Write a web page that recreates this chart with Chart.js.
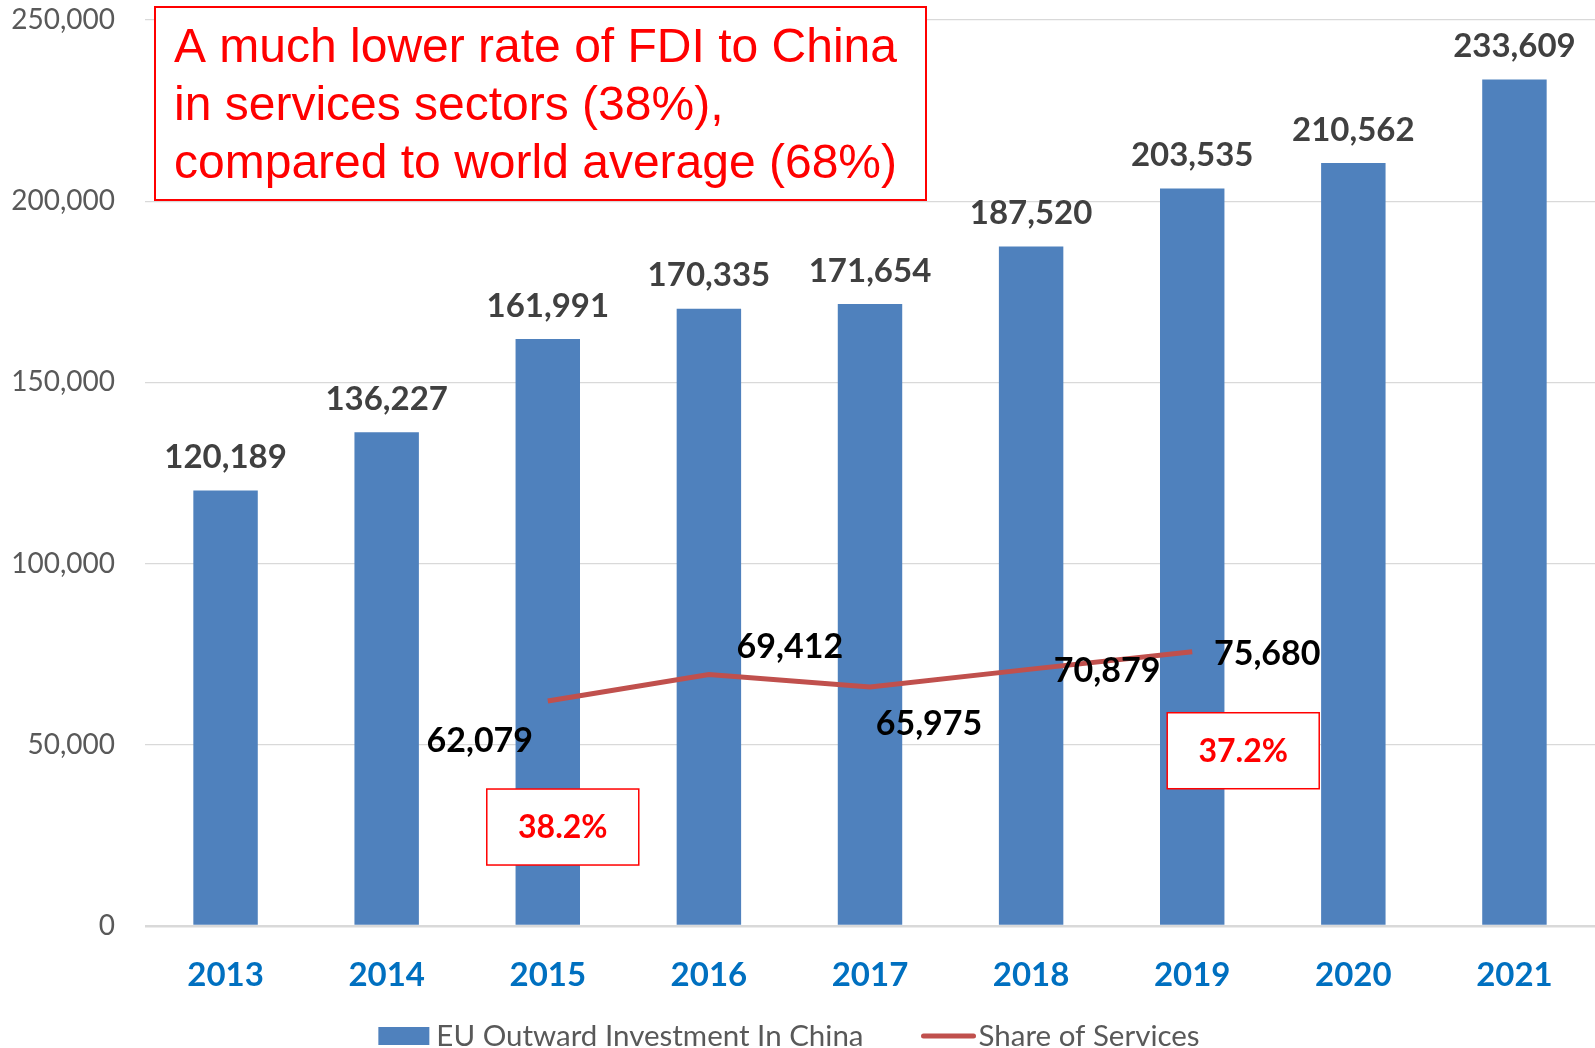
<!DOCTYPE html>
<html>
<head>
<meta charset="utf-8">
<title>EU Outward Investment In China</title>
<script src="https://cdn.jsdelivr.net/npm/chart.js@4.4.1/dist/chart.umd.min.js"></script>
<style>
  html, body { margin: 0; padding: 0; background: #fff; }
  #wrap { width: 1595px; height: 1048px; }
</style>
</head>
<body>
<div id="wrap"><canvas id="fdiChart" width="1595" height="1048"></canvas></div>
<script>
// EU outward investment stock in China, and the part of it in services
const years = ['2013', '2014', '2015', '2016', '2017', '2018', '2019', '2020', '2021'];
const investment = [120189, 136227, 161991, 170335, 171654, 187520, 203535, 210562, 233609];
const services = [null, null, 62079, 69412, 65975, 70879, 75680, null, null];
const yTicks = [0, 50000, 100000, 150000, 200000, 250000];
const shareYears = ['2015', '2019'];
const shareText = ['38.2%', '37.2%'];
const noteLines = [
  'A much lower rate of FDI to China',
  'in services sectors (38%),',
  'compared to world average (68%)'
];

// where the labels sit, relative to the point they belong to
const serviceLabelOffsets = [null, null, [-68, 40], [81, -27], [59, 37], [76, 2], [75, 2], null, null];
const shareBoxOffsets = [[15, 126], [51, 99]];

const FONT = 'Lato, "Open Sans", sans-serif';
const BLUE = '#4F81BD';
const RED_LINE = '#C0504D';

const fmt = v => v.toLocaleString('en-US');

const labelsPlugin = {
  id: 'labels',
  afterDatasetsDraw(chart) {
    const ctx = chart.ctx;
    const x = chart.scales.x;
    const y = chart.scales.y;
    ctx.save();
    ctx.textAlign = 'center';
    ctx.textBaseline = 'middle';

    // values above the bars
    ctx.font = 'bold 33px ' + FONT;
    ctx.fillStyle = '#404040';
    chart.getDatasetMeta(0).data.forEach((bar, i) => {
      ctx.fillText(fmt(investment[i]), bar.x, bar.y - 33);
    });

    // services values around the line
    ctx.font = 'bold 34px ' + FONT;
    ctx.fillStyle = '#000000';
    services.forEach((v, i) => {
      if (v === null) return;
      const off = serviceLabelOffsets[i];
      ctx.fillText(fmt(v), x.getPixelForValue(i) + off[0], y.getPixelForValue(v) + off[1]);
    });

    // share boxes
    shareYears.forEach((yr, k) => {
      const i = years.indexOf(yr);
      const cx = x.getPixelForValue(i) + shareBoxOffsets[k][0];
      const cy = y.getPixelForValue(services[i]) + shareBoxOffsets[k][1];
      ctx.fillStyle = '#ffffff';
      ctx.fillRect(cx - 76, cy - 38, 152, 76);
      ctx.strokeStyle = '#FF0000';
      ctx.lineWidth = 1.5;
      ctx.strokeRect(cx - 76, cy - 38, 152, 76);
      ctx.fillStyle = '#FF0000';
      ctx.font = 'bold 32px ' + FONT;
      ctx.fillText(shareText[k], cx, cy + 1);
    });

    // the note in the top left
    ctx.fillStyle = '#ffffff';
    ctx.fillRect(155, 7, 771, 193);
    ctx.strokeStyle = '#FF0000';
    ctx.lineWidth = 2;
    ctx.strokeRect(155, 7, 771, 193);
    ctx.fillStyle = '#FF0000';
    ctx.textAlign = 'left';
    ctx.font = '48px "Liberation Sans", Arial, sans-serif';
    noteLines.forEach((t, i) => {
      ctx.fillText(t, 174, 49 + i * 58);
    });
    ctx.restore();
  },
  afterDraw(chart) {
    // legend under the axis
    const ctx = chart.ctx;
    ctx.save();
    ctx.font = '29.5px ' + FONT;
    ctx.textBaseline = 'middle';
    ctx.textAlign = 'left';
    const t1 = chart.data.datasets[0].label;
    const t2 = chart.data.datasets[1].label;
    const w1 = ctx.measureText(t1).width;
    const w2 = ctx.measureText(t2).width;
    const total = 51 + 7 + w1 + 58 + 54 + 4 + w2;
    let lx = chart.width / 2 - 8 - total / 2;
    const ly = 1036;
    ctx.fillStyle = BLUE;
    ctx.fillRect(lx, ly - 9, 51, 18);
    lx += 58;
    ctx.fillStyle = '#595959';
    ctx.fillText(t1, lx, ly);
    lx += w1 + 58;
    ctx.strokeStyle = RED_LINE;
    ctx.lineWidth = 5;
    ctx.lineCap = 'round';
    ctx.beginPath();
    ctx.moveTo(lx + 2, ly);
    ctx.lineTo(lx + 52, ly);
    ctx.stroke();
    lx += 57;
    ctx.fillText(t2, lx, ly);
    ctx.restore();
  }
};

const ctx = document.getElementById('fdiChart').getContext('2d');
new Chart(ctx, {
  data: {
    labels: years,
    datasets: [{
      type: 'bar',
      label: 'EU Outward Investment In China',
      data: investment,
      backgroundColor: BLUE,
      barPercentage: 0.4,
      categoryPercentage: 1,
      order: 2
    }, {
      type: 'line',
      label: 'Share of Services',
      data: services,
      borderColor: RED_LINE,
      borderWidth: 5,
      pointRadius: 0,
      tension: 0,
      spanGaps: false,
      order: 1
    }]
  },
  options: {
    responsive: false,
    animation: false,
    layout: { padding: { top: 20, left: 0, right: 0, bottom: 56 } },
    plugins: {
      legend: { display: false },
      tooltip: { enabled: false }
    },
    scales: {
      x: {
        grid: { display: false, drawTicks: false },
        border: { display: false },
        afterFit: axis => { axis.height = 66; },
        ticks: {
          color: '#0070C0',
          padding: 30,
          font: { family: FONT, size: 33, weight: 'bold' }
        }
      },
      y: {
        min: 0,
        max: 250000,
        afterBuildTicks: axis => { axis.ticks = yTicks.map(v => ({ value: v })); },
        afterFit: axis => {
          axis.width = 145;
          axis.paddingTop = 0;
          axis.paddingBottom = 0;
        },
        grid: {
          color: '#D9D9D9',
          lineWidth: c => (c.tick && c.tick.value === 0 ? 2.5 : 1.3),
          drawTicks: false
        },
        border: { display: false },
        ticks: {
          color: '#595959',
          padding: 30,
          font: { family: FONT, size: 28 },
          callback: v => fmt(v)
        }
      }
    }
  },
  plugins: [labelsPlugin]
});
</script>
</body>
</html>
